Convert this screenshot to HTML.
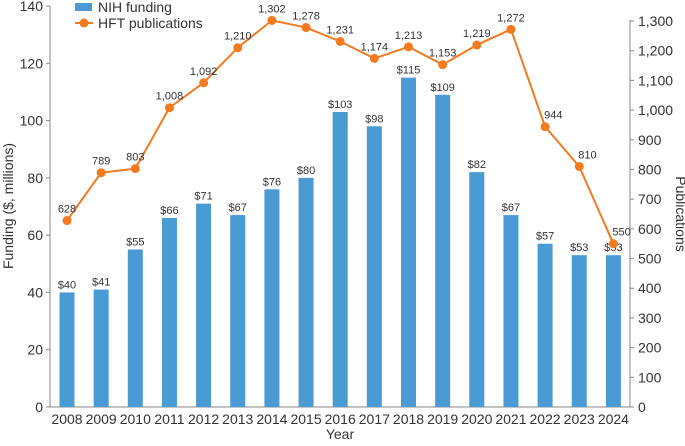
<!DOCTYPE html>
<html><head><meta charset="utf-8"><style>
body{margin:0;background:#fff}
svg text{font-family:"Liberation Sans",sans-serif;fill:#333}
</style></head><body>
<svg id="c" width="685" height="441"></svg>
<script>
const years=[2008,2009,2010,2011,2012,2013,2014,2015,2016,2017,2018,2019,2020,2021,2022,2023,2024];
const funding=[40,41,55,66,71,67,76,80,103,98,115,109,82,67,57,53,53];
const pubs=[628,789,803,1008,1092,1210,1302,1278,1231,1174,1213,1153,1219,1272,944,810,550];
const leftTicks=[0,20,40,60,80,100,120,140];
const rightTicks=[0,100,200,300,400,500,600,700,800,900,1000,1100,1200,1300];
const NS='http://www.w3.org/2000/svg',svg=document.getElementById('c');
const x=i=>67+i*34.15;
const yL=v=>407-v*(401/140);
const yR=v=>407-v*(386/1300);
const fmt=v=>v.toLocaleString('en-US');
function mk(t,a,p){const e=document.createElementNS(NS,t);for(const k in a)e.setAttribute(k,a[k]);(p||svg).appendChild(e);return e;}
let e=mk('line',{x1:50,y1:6,x2:50,y2:407,stroke:'#888'});


e=mk('line',{x1:630,y1:20,x2:630,y2:407,stroke:'#888'});


e=mk('line',{x1:50,y1:407,x2:630,y2:407,stroke:'#888'});


leftTicks.forEach(v=>{
  mk('line',{x1:46,x2:50,y1:yL(v),y2:yL(v),stroke:'#888'});
  e=mk('text',{x:43,y:yL(v)+5,'text-anchor':'end','font-size':14});e.textContent=v;
  
  
});
rightTicks.forEach(v=>{
  mk('line',{x1:630,x2:634,y1:yR(v),y2:yR(v),stroke:'#888'});
  e=mk('text',{x:638,y:yR(v)+5,'font-size':14});e.textContent=fmt(v);
  
  
});
years.forEach((y,i)=>{
  e=mk('text',{x:x(i),y:424,'text-anchor':'middle','font-size':14});e.textContent=y;
  
  
});
funding.forEach((v,i)=>{
  e=mk('rect',{x:x(i)-7.5,y:yL(v),width:15,height:407-yL(v),fill:'#4a9ad4'});
  
  
  e=mk('text',{x:x(i),y:yL(v)-4,'text-anchor':'middle','font-size':11});e.textContent='$'+v;
  
  
});
e=mk('polyline',{points:pubs.map((v,i)=>x(i)+','+yR(v)).join(' '),fill:'none',stroke:'#f47a20','stroke-width':2});


pubs.forEach((v,i)=>{
  e=mk('circle',{cx:x(i),cy:yR(v),r:4.5,fill:'#f47a20'});
  
  
  const right=i>=14;
  e=mk('text',right?{x:x(i)-1,y:yR(v)-8,'font-size':11}:{x:x(i),y:yR(v)-8,'text-anchor':'middle','font-size':11});e.textContent=fmt(v);
  
  
});
e=mk('text',{x:340,y:439,'text-anchor':'middle','font-size':14});e.textContent='Year';


e=mk('text',{transform:'translate(13,206) rotate(-90)','text-anchor':'middle','font-size':14});e.textContent='Funding ($, millions)';


e=mk('text',{transform:'translate(676,214) rotate(90)','text-anchor':'middle','font-size':14});e.textContent='Publications';


e=mk('rect',{x:75,y:3,width:17,height:8,fill:'#4a9ad4'});


e=mk('text',{x:98,y:12,'font-size':14});e.textContent='NIH funding';


mk('line',{x1:75,x2:93,y1:23,y2:23,stroke:'#f47a20','stroke-width':2});
e=mk('circle',{cx:84,cy:23,r:4.5,fill:'#f47a20'});


e=mk('text',{x:98,y:28,'font-size':14});e.textContent='HFT publications';


</script>
</body></html>
